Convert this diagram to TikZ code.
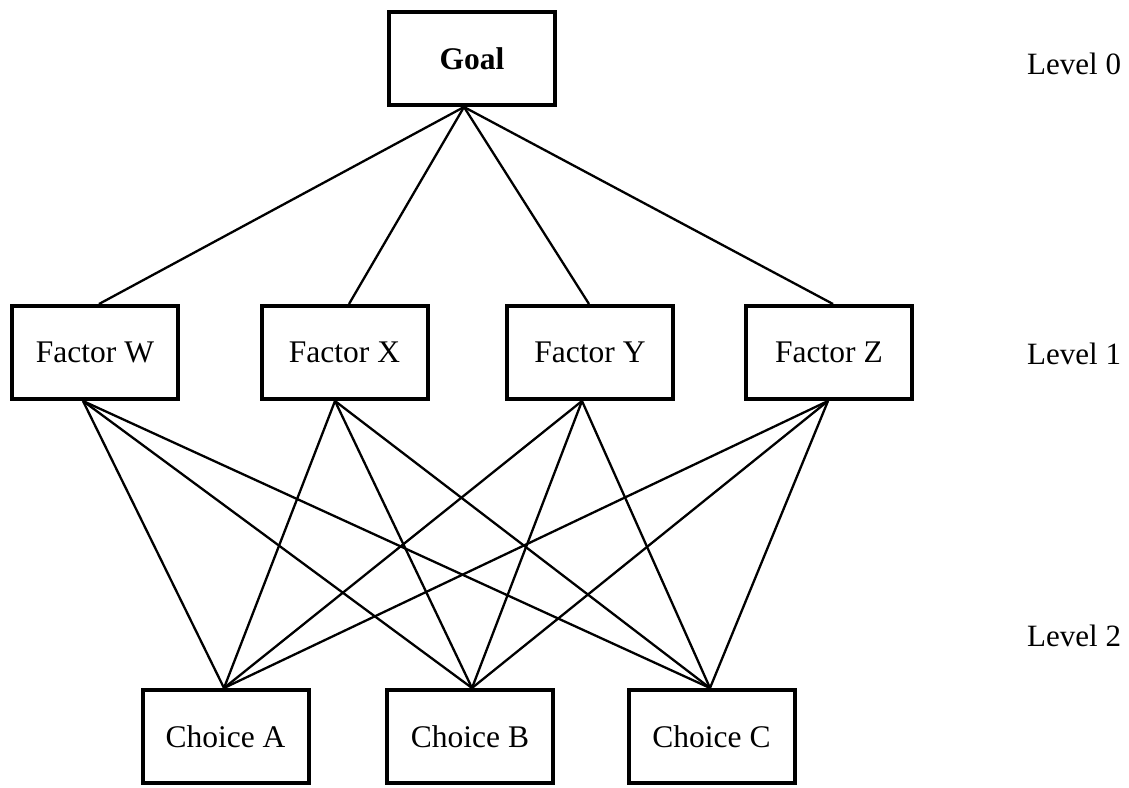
\documentclass[tikz,border=0pt]{standalone}
\usepackage{fontspec}
\setmainfont{Liberation Serif}
\begin{document}
\begin{tikzpicture}[x=1pt,y=-1pt,
  box/.style={draw, line width=4pt, minimum width=166pt, minimum height=93pt,
    inner sep=0pt, font=\fontsize{31.5}{38}\selectfont},
  link/.style={line width=2.3pt},
  lvl/.style={anchor=west, inner sep=0pt, font=\fontsize{31}{38}\selectfont}]
\useasboundingbox (0,0) rectangle (1129,787);

% level 0
\node[box, font=\fontsize{31.5}{38}\selectfont\bfseries] (goal) at (472,58.5) {Goal};

% level 1
\node[box] (fw) at (95,352.5)  {Factor W};
\node[box] (fx) at (344.5,352.5) {Factor X};
\node[box] (fy) at (590,352.5) {Factor Y};
\node[box] (fz) at (829,352.5) {Factor Z};

% level 2
\node[box] (ca) at (225.5,736.5) {Choice A};
\node[box] (cb) at (470,736.5)   {Choice B};
\node[box] (cc) at (711.5,736.5) {Choice C};

% level labels
\node[lvl] (l0) at (1027,64)  {Level 0};
\node[lvl] (l1) at (1027,354) {Level 1};
\node[lvl] (l2) at (1027,636) {Level 2};

% goal to factors
\foreach \f/\o in {fw/4, fx/4.5, fy/-1, fz/4}
  \draw[link] ([xshift=-8pt]goal.south) -- ([xshift=\o pt]\f.north);

% factors to choices
\foreach \f/\o in {fw/-12, fx/-9.5, fy/-8, fz/-1}
  \foreach \c/\p in {ca/-1.5, cb/2, cc/-1.5}
    \draw[link] ([xshift=\o pt]\f.south) -- ([xshift=\p pt]\c.north);
\end{tikzpicture}
\end{document}
